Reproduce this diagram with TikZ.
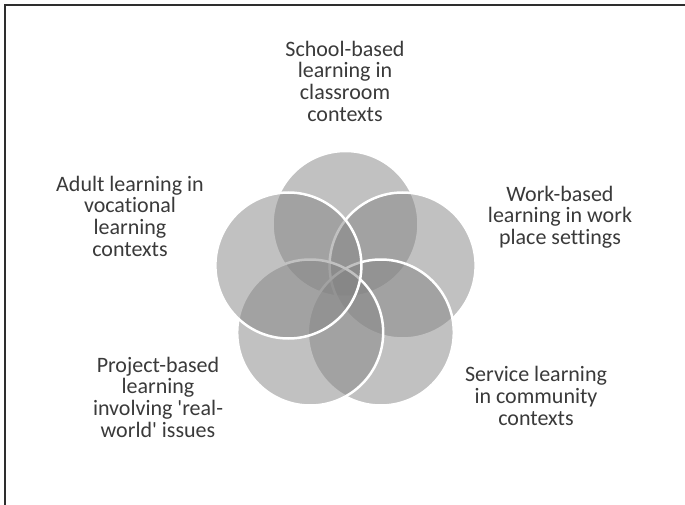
\documentclass[tikz,border=0pt]{standalone}
\usepackage{fontspec}
\setmainfont{Carlito}[Ligatures={TeXOff,NoCommon}]
\definecolor{txt}{HTML}{3A3A3A}
\definecolor{frame}{HTML}{2E2E2E}
\definecolor{cfill}{HTML}{858585}
\tikzset{
  venn/.style={circle, minimum size=146pt, inner sep=0pt, fill=cfill, fill opacity=0.5, draw=white, draw opacity=1, line width=2.5pt},
  lbl/.style={align=center, text=txt, font=\fontsize{22}{21.7}\selectfont, inner sep=0pt}
}
\begin{document}
\begin{tikzpicture}[x=1pt,y=-1pt]
\useasboundingbox (0,0) rectangle (685,505);
\fill[white] (0,0) rectangle (685,505);
% frame
\coordinate (ftl) at (5,5);
\coordinate (ftr) at (686,5);
\coordinate (fbl) at (5,506);
\draw[line width=2pt, frame] (ftr) -- (ftl) -- (fbl);
% circles
\node[venn] (ctop) at (345.5,224) {};
\node[venn] (cur) at (402.6,265.5) {};
\node[venn] (clr) at (380.8,332.5) {};
\node[venn] (cll) at (310.2,332.5) {};
\node[venn] (cul) at (288.4,265.5) {};
% labels
\node[lbl] (ttop) at (345,81) {School-based\\learning in\\classroom\\contexts};
\node[lbl] (tul) at (130,216) {Adult learning in\\vocational\\learning\\contexts};
\node[lbl] (tur) at (560,217) {Work-based\\learning in work\\place settings};
\node[lbl] (tlr) at (536,396) {Service learning\\in community\\contexts};
\node[lbl] (tll) at (158,397) {Project-based\\learning\\involving 'real-\\world' issues};
\end{tikzpicture}
\end{document}
